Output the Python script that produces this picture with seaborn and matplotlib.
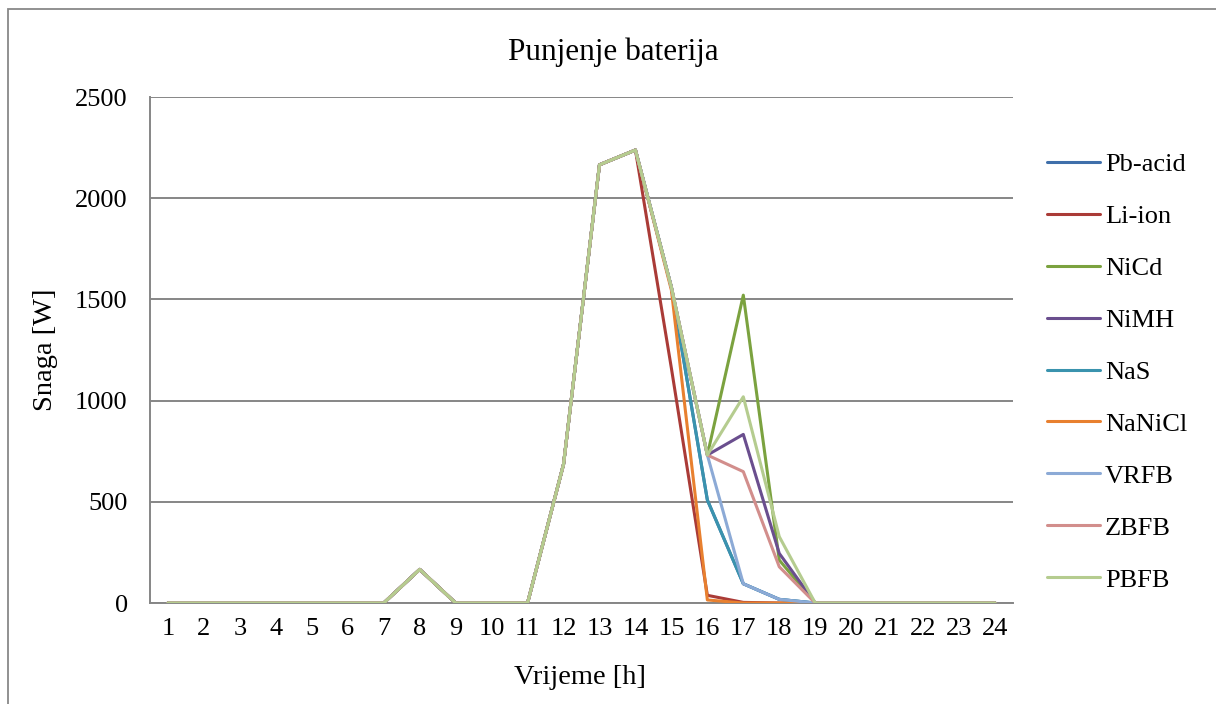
import numpy as np
import pandas as pd
import matplotlib
matplotlib.use("Agg")
import matplotlib.pyplot as plt
import matplotlib.patches as patches
import seaborn as sns

# data (W per hour)
hours = list(range(1, 25))
series = ["Pb-acid", "Li-ion", "NiCd", "NiMH", "NaS", "NaNiCl", "VRFB", "ZBFB", "PBFB"]

head = [0, 0, 0, 0, 0, 0, 0, 166, 0, 0, 0, 685, 2165, 2238]   # hours 1-14, same for all
tail = [0, 0, 0, 0, 0]                                          # hours 20-24

pb_acid = [1560, 509, 95, 18, 0]   # hours 15-19
li_ion = [1160, 38, 3, 0, 0]
nicd = [1560, 731, 1521, 212, 0]
nimh = [1560, 731, 833, 245, 0]
nas = [1560, 509, 95, 18, 0]
nanicl = [1546, 15, 0, 0, 0]
vrfb = [1560, 731, 95, 18, 0]
zbfb = [1560, 731, 649, 179, 0]
pbfb = [1560, 731, 1019, 328, 0]

colors = ["#3F6FAA", "#AA3B37", "#7BA23F", "#6A4E8E", "#3A93AE",
          "#E8802F", "#8CAAD6", "#D28E8C", "#B5CC8F"]

mid = [pb_acid, li_ion, nicd, nimh, nas, nanicl, vrfb, zbfb, pbfb]
rows = []
for name, m in zip(series, mid):
    vals = head + m + tail
    for h, v in zip(hours, vals):
        rows.append({"hour": h, "value": v, "series": name})
df = pd.DataFrame(rows)

sns.set_style("white")
plt.rcParams["font.family"] = ["Liberation Serif", "DejaVu Serif"]
plt.rcParams["text.color"] = "black"

fig = plt.figure(figsize=(12.16, 7.04), dpi=100)
ax = fig.add_axes([150 / 1216, 1 - 603 / 704, 863 / 1216, 506 / 704])

sns.lineplot(data=df, x="hour", y="value", hue="series", hue_order=series,
             palette=colors, linewidth=2.2, ax=ax, legend=False, zorder=3)

ax.set_xlim(0.5, 24.5)
ax.set_ylim(0, 2500)
ax.set_xticks(hours)
ax.set_xticklabels([str(h) for h in hours])
ax.set_yticks([0, 500, 1000, 1500, 2000, 2500])
ax.tick_params(axis="both", length=0, labelsize=19, colors="black")
ax.tick_params(axis="y", pad=16)
ax.tick_params(axis="x", pad=11)

ax.yaxis.grid(True, color="#868686", linewidth=1.4, zorder=0)
ax.xaxis.grid(False)
for s in ["top", "right"]:
    ax.spines[s].set_visible(False)
for s in ["left", "bottom"]:
    ax.spines[s].set_color("#868686")
    ax.spines[s].set_linewidth(1.4)

ax.set_xlabel("")
ax.set_ylabel("")
fig.text(580 / 1216, 1 - 677 / 704, "Vrijeme [h]", fontsize=20.5, ha="center", va="center")
fig.text(45 / 1216, 1 - 350 / 704, "Snaga [W]", fontsize=20.5, ha="center", va="center",
         rotation=90)
fig.text(613 / 1216, 1 - 52 / 704, "Punjenje baterija", fontsize=22.5, ha="center", va="center")

handles = [plt.Line2D([], [], color=c, linewidth=2.2) for c in colors]
ax.legend(handles, series, loc="center left",
          bbox_to_anchor=(1047 / 1216, 1 - 372 / 704), bbox_transform=fig.transFigure,
          frameon=False, fontsize=19, handlelength=2.0, handletextpad=0.2,
          labelspacing=1.08, borderpad=0, borderaxespad=0, labelcolor="black")

border = patches.Rectangle((8 / 1216, -0.1), 1.2, 1.1 - 9 / 704, transform=fig.transFigure,
                           fill=False, edgecolor="#888888", linewidth=1.3)
fig.patches.append(border)

fig.savefig("out.png", dpi=100)
